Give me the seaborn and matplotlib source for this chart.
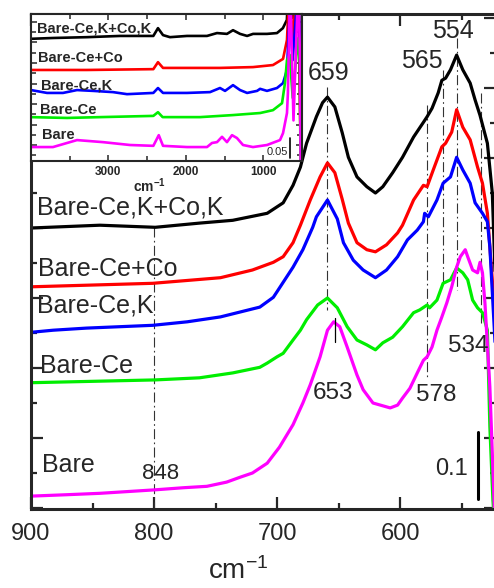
import matplotlib
matplotlib.use("Agg")
import matplotlib.pyplot as plt
from matplotlib.ticker import MultipleLocator, FixedLocator
import seaborn as sns

# ---------------- data ----------------
labels = ["Bare-Ce,K+Co,K", "Bare-Ce+Co", "Bare-Ce,K", "Bare-Ce", "Bare"]
colors = ["#000000", "#FF0000", "#0000FF", "#00EE00", "#FF00FF"]

# main panel: wavenumber (cm-1) and offset absorbance
black_wn = [900, 844, 799, 763, 736, 708, 695, 687, 681, 676, 672, 668, 663, 659, 653, 647, 642, 635, 627, 620,
            614, 606, 598, 589, 581, 578, 574, 569, 566, 563, 559, 554, 549, 543, 539, 535, 529, 525, 522]
black_ab = [0.400, 0.404, 0.401, 0.407, 0.411, 0.421, 0.436, 0.461, 0.487, 0.521, 0.540, 0.559, 0.579, 0.587,
            0.573, 0.536, 0.501, 0.473, 0.459, 0.450, 0.459, 0.479, 0.501, 0.530, 0.551, 0.559, 0.571, 0.593,
            0.611, 0.614, 0.626, 0.647, 0.626, 0.607, 0.583, 0.561, 0.521, 0.450, 0.297]

red_wn = [900, 801, 746, 720, 703, 695, 687, 681, 673, 665, 659, 653, 647, 642, 635, 627, 620, 611, 602, 598,
          589, 581, 578, 573, 566, 563, 558, 554, 549, 543, 537, 533, 529, 525, 522]
red_ab = [0.316, 0.321, 0.329, 0.340, 0.351, 0.359, 0.379, 0.404, 0.440, 0.473, 0.493, 0.479, 0.441, 0.407,
          0.379, 0.369, 0.366, 0.376, 0.393, 0.404, 0.440, 0.461, 0.459, 0.483, 0.516, 0.521, 0.537, 0.569,
          0.544, 0.526, 0.487, 0.464, 0.421, 0.326, 0.240]

blue_wn = [900, 882, 855, 828, 801, 773, 746, 714, 703, 700, 687, 679, 671, 668, 659, 651, 646, 638, 630, 620,
           611, 602, 594, 586, 581, 580, 577, 570, 565, 559, 554, 549, 543, 539, 535, 533, 529, 527, 522]
blue_ab = [0.251, 0.254, 0.257, 0.259, 0.261, 0.266, 0.273, 0.287, 0.301, 0.309, 0.344, 0.369, 0.401, 0.416,
           0.440, 0.413, 0.379, 0.354, 0.340, 0.329, 0.340, 0.359, 0.383, 0.397, 0.409, 0.421, 0.416, 0.440,
           0.464, 0.473, 0.501, 0.483, 0.464, 0.436, 0.426, 0.421, 0.409, 0.373, 0.211]

green_wn = [900, 799, 763, 736, 714, 708, 700, 695, 687, 681, 676, 667, 659, 651, 643, 635, 627, 620, 614, 606,
            598, 589, 584, 578, 576, 570, 565, 559, 554, 549, 545, 541, 537, 533, 529, 527, 524.5, 522]
green_ab = [0.179, 0.183, 0.186, 0.193, 0.201, 0.207, 0.216, 0.221, 0.240, 0.254, 0.269, 0.290, 0.300, 0.286,
            0.259, 0.240, 0.233, 0.226, 0.236, 0.244, 0.259, 0.279, 0.283, 0.290, 0.286, 0.297, 0.321, 0.326,
            0.343, 0.336, 0.326, 0.297, 0.286, 0.279, 0.254, 0.116, 0.011, -0.050]

mag_wn = [900, 871, 844, 817, 799, 776, 757, 741, 730, 720, 708, 698, 687, 679, 673, 665, 659, 654, 649, 643,
          635, 630, 622, 616, 608, 602, 598, 592, 586, 581, 578, 574, 570, 566, 562, 558, 554, 551, 547, 545,
          541, 537, 535, 533, 531, 527, 523]
mag_ab = [0.017, 0.019, 0.021, 0.024, 0.026, 0.029, 0.031, 0.037, 0.044, 0.050, 0.064, 0.087, 0.119, 0.150,
          0.176, 0.216, 0.254, 0.266, 0.259, 0.230, 0.190, 0.169, 0.150, 0.147, 0.143, 0.147, 0.157, 0.171,
          0.193, 0.211, 0.216, 0.230, 0.254, 0.273, 0.293, 0.316, 0.344, 0.359, 0.369, 0.359, 0.340, 0.336,
          0.351, 0.336, 0.293, 0.173, -0.017]

# inset panel: full range spectra
i_black_wn = [4000, 3716, 3277, 2851, 2420, 2360, 2295, 2205, 1985, 1727, 1598, 1469, 1391, 1300, 1209, 1132,
              952, 823, 747, 695, 659, 620, 554, 524, 510]
i_black_ab = [0.259, 0.261, 0.263, 0.266, 0.266, 0.285, 0.268, 0.263, 0.266, 0.266, 0.273, 0.271, 0.280, 0.271,
              0.266, 0.271, 0.271, 0.273, 0.285, 0.305, 0.460, 0.310, 0.520, 0.170, 0.050]

i_red_wn = [4000, 3277, 2420, 2360, 2295, 1559, 1133, 875, 745, 694, 659, 620, 554, 524, 510]
i_red_ab = [0.183, 0.183, 0.185, 0.202, 0.188, 0.188, 0.190, 0.195, 0.210, 0.256, 0.400, 0.240, 0.450, 0.060,
            -0.050]

i_blue_wn = [4000, 3793, 3587, 3406, 3199, 2941, 2760, 2420, 2360, 2295, 1985, 1688, 1559, 1494, 1391, 1300,
             1209, 1080, 1041, 952, 823, 745, 694, 659, 620, 554, 527, 520]
i_blue_ab = [0.134, 0.127, 0.127, 0.134, 0.132, 0.129, 0.124, 0.127, 0.139, 0.127, 0.127, 0.129, 0.139, 0.132,
             0.146, 0.134, 0.127, 0.132, 0.137, 0.132, 0.139, 0.151, 0.183, 0.330, 0.207, 0.380, 0.250, 0.000]

i_green_wn = [4000, 3535, 3109, 2420, 2360, 2300, 1817, 1391, 1041, 875, 758, 720, 694, 659, 620, 554, 527, 520]
i_green_ab = [0.068, 0.066, 0.068, 0.071, 0.080, 0.068, 0.068, 0.073, 0.078, 0.085, 0.102, 0.151, 0.207, 0.220,
              0.115, 0.260, 0.200, -0.050]

i_mag_wn = [4000, 3716, 3406, 3070, 2721, 2420, 2350, 2295, 1985, 1727, 1662, 1598, 1533, 1469, 1404, 1340,
            1262, 1133, 952, 784, 745, 694, 682, 653, 610, 547, 525, 518]
i_mag_ab = [-0.005, -0.005, 0.012, 0.007, 0.000, -0.002, 0.024, -0.002, -0.005, -0.005, 0.005, 0.007, 0.020,
            0.007, 0.024, 0.017, 0.000, -0.005, 0.000, 0.012, 0.029, 0.078, 0.127, 0.400, 0.060, 0.400, 0.200,
            -0.060]

# band markers (dash-dot guide lines): position, top, bottom
band_wn = [800, 659, 578, 565, 554, 534]
band_top = [0.401, 0.601, 0.576, 0.626, 0.671, 0.593]
band_bot = [-0.002, 0.283, 0.187, 0.321, 0.311, 0.261]
band_text = ["848", "659", "578", "565", "554", "534", "653"]

main_series = [(black_wn, black_ab), (red_wn, red_ab), (blue_wn, blue_ab), (green_wn, green_ab), (mag_wn, mag_ab)]
inset_series = [(i_black_wn, i_black_ab), (i_red_wn, i_red_ab), (i_blue_wn, i_blue_ab),
                (i_green_wn, i_green_ab), (i_mag_wn, i_mag_ab)]

# ---------------- style ----------------
sns.set_style("ticks")
plt.rcParams["font.family"] = ["Liberation Sans", "DejaVu Sans"]
plt.rcParams["mathtext.default"] = "regular"

W, H = 494, 588
fig = plt.figure(figsize=(W / 100, H / 100), dpi=100)

# ---------------- main axes ----------------
ax = fig.add_axes([31 / W, 1 - 509 / H, 465 / W, 495 / H])
for (wn, ab), c in zip(main_series, colors):
    sns.lineplot(x=wn, y=ab, color=c, lw=2.3, ax=ax, sort=False, estimator=None)

for w, y0, y1 in zip(band_wn, band_top, band_bot):
    ax.plot([w, w], [y0, y1], color="#333333", lw=0.8, ls=(0, (9, 3, 1.5, 3)), zorder=1)
ax.plot([653, 653], [0.237, 0.271], color="black", lw=0.9)

ax.set_xlim(900, 522)
ax.set_ylim(-0.0014, 0.7057)
ax.xaxis.set_major_locator(MultipleLocator(100))
ax.xaxis.set_minor_locator(MultipleLocator(50))
ax.yaxis.set_major_locator(MultipleLocator(0.1))
ax.yaxis.set_minor_locator(MultipleLocator(0.05))
ax.tick_params(which="both", direction="in", top=True, right=True, width=1.6, labelleft=False)
ax.tick_params(which="major", length=8.5, labelsize=17, pad=10)
ax.tick_params(which="minor", length=4.5)
for s in ax.spines.values():
    s.set_linewidth(2.2)
ax.set_ylabel("")
ax.set_xlabel("cm$^{-1}$", fontsize=20)
ax.xaxis.set_label_coords(0.445, -0.126)
ax.xaxis.label.set_va("center")

# curve labels
main_lab_pos = [(895, 0.429), (894, 0.341), (895, 0.289), (893, 0.203), (891, 0.061)]
for (x, y), t in zip(main_lab_pos, labels):
    ax.text(x, y, t, fontsize=18, ha="left", va="center")

# band numbers
num_pos = [(795, 0.049, 16), (658.5, 0.621, 18), (570.7, 0.161, 17.5), (582, 0.639, 18),
           (557, 0.681, 18), (544.7, 0.231, 17.5), (654.5, 0.164, 17.5)]
for (x, y, fs), t in zip(num_pos, band_text):
    ax.text(x, y, t, fontsize=fs, ha="center", va="center")

# scale bar
ax.plot([536.6, 536.6], [0.013, 0.109], color="black", lw=2.2)
ax.text(558.5, 0.056, "0.1", fontsize=17, ha="center", va="center")

# ---------------- inset ----------------
axi = fig.add_axes([31 / W, 1 - 161 / H, 271 / W, 147 / H])
axi.set_facecolor("white")
for (wn, ab), c in zip(inset_series, colors):
    sns.lineplot(x=wn, y=ab, color=c, lw=1.9, ax=axi, sort=False, estimator=None)
axi.set_xlim(4000, 500)
axi.set_ylim(-0.039, 0.3195)
axi.xaxis.set_major_locator(FixedLocator([3000, 2000, 1000]))
axi.xaxis.set_minor_locator(FixedLocator([3500, 2500, 1500]))
axi.yaxis.set_major_locator(MultipleLocator(0.05))
axi.yaxis.set_minor_locator(MultipleLocator(0.025))
axi.tick_params(which="both", direction="in", top=True, right=True, width=1.1, labelleft=False)
axi.tick_params(which="major", length=4.5, labelsize=8.5, pad=3.5)
axi.tick_params(which="minor", length=3.5)
for lbl in axi.get_xticklabels():
    lbl.set_fontweight("bold")
for s in axi.spines.values():
    s.set_linewidth(1.5)
axi.set_ylabel("")
axi.set_xlabel("cm$^{-1}$", fontsize=10, fontweight="bold")
axi.xaxis.set_label_coords(0.439, -0.17)
axi.xaxis.label.set_va("center")

inset_lab_pos = [(3923, 0.285), (3910, 0.212), (3871, 0.146), (3884, 0.085), (3858, 0.024)]
for (x, y), t in zip(inset_lab_pos, labels):
    axi.text(x, y, t, fontsize=10.5, fontweight="bold", ha="left", va="center")

axi.plot([655, 655], [-0.032, 0.017], color="black", lw=1.2)
axi.text(823, -0.017, "0.05", fontsize=8, ha="center", va="center")

fig.savefig("out.png", dpi=100)
